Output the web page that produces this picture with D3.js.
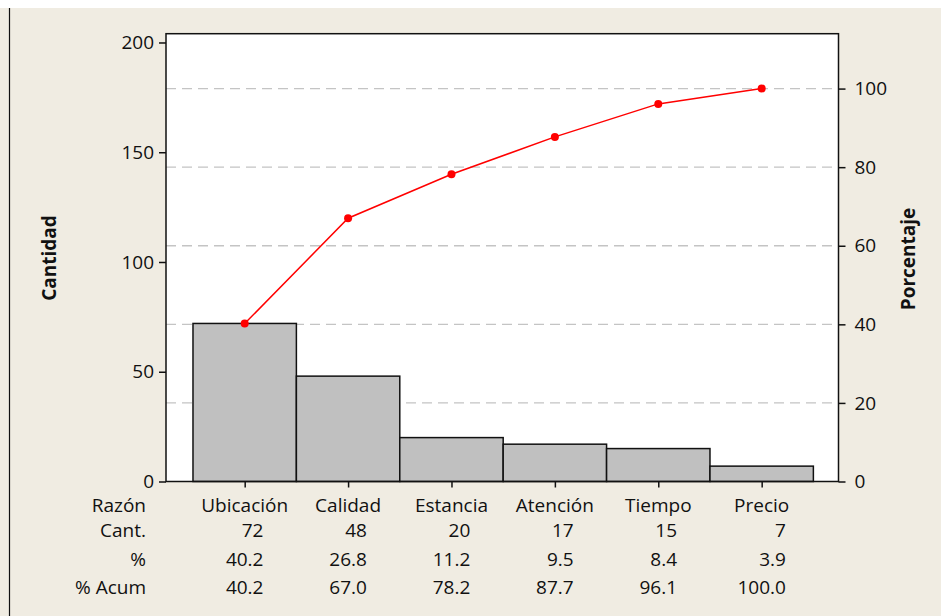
<!DOCTYPE html>
<html>
<head>
<meta charset="utf-8">
<script src="https://cdn.jsdelivr.net/npm/d3@7"></script>
<style>
  body { margin: 0; background: #fff; }
  text { font-family: "Open Sans", sans-serif; fill: #111; }
</style>
</head>
<body>
<div class="chart"></div>
<script>
// data
const categories = ["Ubicación", "Calidad", "Estancia", "Atención", "Tiempo", "Precio"];
const counts = [72, 48, 20, 17, 15, 7];
const percents = ["40.2", "26.8", "11.2", "9.5", "8.4", "3.9"];
const cumPercents = ["40.2", "67.0", "78.2", "87.7", "96.1", "100.0"];
const rowLabels = ["Razón", "Cant.", "%", "% Acum"];
const leftTicks = [0, 50, 100, 150, 200];
const rightTicks = [0, 20, 40, 60, 80, 100];

const svgwidth = 941, svgheight = 616;
const plot = {left: 166, right: 838.5, top: 33.7, bottom: 481.5};
const total = 179;
const leftMax = 204;

const svg = d3.select(".chart").append("svg")
    .attr("width", svgwidth)
    .attr("height", svgheight);

// page background + frame line
svg.append("rect").attr("x", 0).attr("y", 8).attr("width", svgwidth).attr("height", svgheight - 8)
    .attr("fill", "#f0ece2");
svg.append("line").attr("x1", 9.5).attr("x2", 9.5).attr("y1", 8).attr("y2", svgheight)
    .attr("stroke", "#111").attr("stroke-width", 1.2);

// plot area
svg.append("rect").attr("x", plot.left).attr("y", plot.top)
    .attr("width", plot.right - plot.left).attr("height", plot.bottom - plot.top)
    .attr("fill", "#fff");

// scales
const posX = d3.scaleLinear().domain([-0.761, 5.743]).range([plot.left, plot.right]);
const posY = d3.scaleLinear().domain([0, leftMax]).range([plot.bottom, plot.top]);
const pctY = d3.scaleLinear().domain([0, leftMax / total * 100]).range([plot.bottom, plot.top]);

// dashed gridlines at the percentage ticks
svg.selectAll(".grid")
  .data(rightTicks.filter(d => d > 0))
  .enter().append("line")
    .attr("class", "grid")
    .attr("x1", plot.left).attr("x2", plot.right)
    .attr("y1", d => pctY(d)).attr("y2", d => pctY(d))
    .attr("stroke", "#c4c4c4").attr("stroke-width", 1.3)
    .attr("stroke-dasharray", "10,6");

// bars
svg.selectAll(".bar")
  .data(counts)
  .enter().append("rect")
    .attr("class", "bar")
    .attr("x", (d, i) => posX(i - 0.5))
    .attr("width", posX(0.5) - posX(-0.5))
    .attr("y", d => posY(d))
    .attr("height", d => plot.bottom - posY(d))
    .attr("fill", "#c0c0c0")
    .attr("stroke", "#111").attr("stroke-width", 1.5);

// cumulative line
const line = d3.line()
    .x((d, i) => posX(i))
    .y(d => pctY(+d));
svg.append("path")
    .datum(cumPercents)
    .attr("d", line)
    .attr("fill", "none")
    .attr("stroke", "#ff0000").attr("stroke-width", 1.5);
svg.selectAll(".dot")
  .data(cumPercents)
  .enter().append("circle")
    .attr("class", "dot")
    .attr("cx", (d, i) => posX(i))
    .attr("cy", d => pctY(+d))
    .attr("r", 4)
    .attr("fill", "#ff0000");

// frame of the plot
svg.append("rect").attr("x", plot.left).attr("y", plot.top)
    .attr("width", plot.right - plot.left).attr("height", plot.bottom - plot.top)
    .attr("fill", "none").attr("stroke", "#111").attr("stroke-width", 1.5);

// axes
const axisL = svg.append("g")
    .attr("transform", "translate(" + plot.left + ",0)")
    .call(d3.axisLeft(posY).tickValues(leftTicks).tickSize(7).tickPadding(5));
const axisR = svg.append("g")
    .attr("transform", "translate(" + plot.right + ",0)")
    .call(d3.axisRight(pctY).tickValues(rightTicks).tickSize(7).tickPadding(9));
const axisB = svg.append("g")
    .attr("transform", "translate(0," + plot.bottom + ")")
    .call(d3.axisBottom(posX).tickValues(d3.range(categories.length)).tickSize(6).tickFormat(""));
[axisL, axisR, axisB].forEach(g => {
  g.select(".domain").remove();
  g.selectAll(".tick line").attr("stroke", "#111").attr("stroke-width", 1.5);
  g.selectAll(".tick text").attr("font-size", "19px").attr("fill", "#111")
    .attr("font-family", "Open Sans, sans-serif");
});

// axis titles
svg.append("text")
    .attr("transform", "translate(56,258) rotate(-90)")
    .attr("text-anchor", "middle")
    .attr("font-size", "19px").attr("font-weight", "bold")
    .text("Cantidad");
svg.append("text")
    .attr("transform", "translate(915,259) rotate(-90)")
    .attr("text-anchor", "middle")
    .attr("font-size", "19px").attr("font-weight", "bold")
    .text("Porcentaje");

// table under the chart
const rowY = [511.7, 536.7, 565.7, 594];
svg.selectAll(".rowlabel")
  .data(rowLabels)
  .enter().append("text")
    .attr("class", "rowlabel")
    .attr("x", 146).attr("y", (d, i) => rowY[i])
    .attr("text-anchor", "end")
    .attr("font-size", "19px")
    .text(d => d);

svg.selectAll(".cat")
  .data(categories)
  .enter().append("text")
    .attr("class", "cat")
    .attr("x", (d, i) => posX(i)).attr("y", rowY[0])
    .attr("text-anchor", "middle")
    .attr("font-size", "19px")
    .text(d => d);

categories.forEach((c, i) => {
  const vals = [String(counts[i]), percents[i], cumPercents[i]];
  const g = svg.append("g");
  const texts = g.selectAll("text").data(vals).enter().append("text")
      .attr("y", (d, j) => rowY[j + 1])
      .attr("text-anchor", "end")
      .attr("font-size", "19px")
      .text(d => d);
  let maxw = 0;
  texts.each(function() { maxw = Math.max(maxw, this.getComputedTextLength()); });
  texts.attr("x", posX(i) + maxw / 2);
});
</script>
</body>
</html>
